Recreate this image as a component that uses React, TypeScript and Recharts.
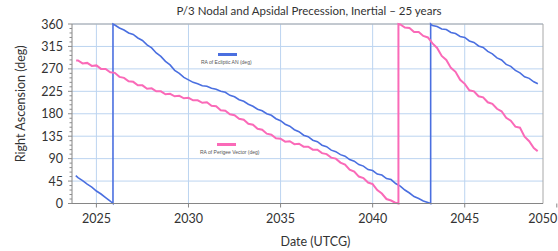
import {
  LineChart,
  Line,
  XAxis,
  YAxis,
  CartesianGrid,
  Legend,
  ReferenceLine,
} from "recharts";

// date axis (years) and RA axis (deg)
const xDomain = [2023.675, 2049.25];
const xTicks = [2025, 2030, 2035, 2040, 2045, 2050];
const yMajor = [0, 45, 90, 135, 180, 225, 270, 315, 360];
const yMinor = [
  0, 9, 18, 27, 36, 45, 54, 63, 72, 81, 90, 99, 108, 117, 126, 135, 144, 153, 162, 171, 180,
  189, 198, 207, 216, 225, 234, 243, 252, 261, 270, 279, 288, 297, 306, 315, 324, 333, 342, 351, 360,
];

// [year, RA deg]
const eclipticAN: [number, number][] = [
  [2023.88, 56], [2024.0, 52], [2024.25, 46], [2024.5, 39], [2024.75, 33], [2025.0, 25],
  [2025.25, 19], [2025.5, 12], [2025.75, 5], [2025.9, 0], [2025.9, 360], [2026.0, 358],
  [2026.25, 352], [2026.5, 348], [2026.75, 342], [2027.0, 339], [2027.25, 332], [2027.5, 327],
  [2027.75, 318], [2028.0, 312], [2028.25, 302], [2028.5, 295], [2028.75, 285], [2029.0, 278],
  [2029.25, 267], [2029.5, 261], [2029.75, 253], [2030.0, 248], [2030.25, 243], [2030.5, 240],
  [2030.75, 236], [2031.0, 235], [2031.25, 231], [2031.5, 229], [2031.75, 225], [2032.0, 223],
  [2032.25, 217], [2032.5, 214], [2032.75, 208], [2033.0, 205], [2033.25, 199], [2033.5, 195],
  [2033.75, 189], [2034.0, 186], [2034.25, 180], [2034.5, 177], [2034.75, 170], [2035.0, 166],
  [2035.25, 159], [2035.5, 155], [2035.75, 148], [2036.0, 144], [2036.25, 137], [2036.5, 134],
  [2036.75, 127], [2037.0, 124], [2037.25, 117], [2037.5, 114], [2037.75, 107], [2038.0, 104],
  [2038.25, 98], [2038.5, 95], [2038.75, 88], [2039.0, 85], [2039.25, 78], [2039.5, 75],
  [2039.75, 68], [2040.0, 66], [2040.25, 59], [2040.5, 57], [2040.75, 50], [2041.0, 48],
  [2041.25, 40], [2041.5, 35], [2041.75, 27], [2042.0, 21], [2042.25, 14], [2042.5, 10],
  [2042.75, 5], [2043.0, 2], [2043.15, 0], [2043.15, 360], [2043.25, 357], [2043.5, 355],
  [2043.75, 350], [2044.0, 349], [2044.25, 343], [2044.5, 341], [2044.75, 335], [2045.0, 333],
  [2045.25, 326], [2045.5, 323], [2045.75, 316], [2046.0, 313], [2046.25, 305], [2046.5, 300],
  [2046.75, 292], [2047.0, 288], [2047.25, 279], [2047.5, 275], [2047.75, 267], [2048.0, 262],
  [2048.25, 254], [2048.5, 251], [2048.75, 244], [2048.97, 240],
];

const perigeeVector: [number, number][] = [
  [2023.9, 287], [2024.0, 287], [2024.25, 281], [2024.5, 282], [2024.75, 276], [2025.0, 277],
  [2025.25, 270], [2025.5, 270], [2025.75, 263], [2026.0, 262], [2026.25, 254], [2026.5, 252],
  [2026.75, 245], [2027.0, 244], [2027.25, 237], [2027.5, 237], [2027.75, 230], [2028.0, 231],
  [2028.25, 225], [2028.5, 225], [2028.75, 219], [2029.0, 220], [2029.25, 215], [2029.5, 216],
  [2029.75, 211], [2030.0, 212], [2030.25, 207], [2030.5, 207], [2030.75, 202], [2031.0, 203],
  [2031.25, 196], [2031.5, 195], [2031.75, 187], [2032.0, 186], [2032.25, 179], [2032.5, 177],
  [2032.75, 170], [2033.0, 168], [2033.25, 160], [2033.5, 158], [2033.75, 150], [2034.0, 148],
  [2034.25, 140], [2034.5, 138], [2034.75, 131], [2035.0, 130], [2035.25, 124], [2035.5, 125],
  [2035.75, 119], [2036.0, 120], [2036.25, 114], [2036.5, 114], [2036.75, 108], [2037.0, 108],
  [2037.25, 101], [2037.5, 99], [2037.75, 92], [2038.0, 90], [2038.25, 82], [2038.5, 78],
  [2038.75, 68], [2039.0, 64], [2039.25, 54], [2039.5, 51], [2039.75, 42], [2040.0, 39],
  [2040.25, 27], [2040.5, 20], [2040.75, 9], [2041.0, 6], [2041.2, 2], [2041.4, 0],
  [2041.4, 360], [2041.5, 359], [2041.75, 353], [2042.0, 352], [2042.25, 344], [2042.5, 344],
  [2042.75, 336], [2043.0, 333], [2043.25, 321], [2043.5, 312], [2043.75, 296], [2044.0, 288],
  [2044.25, 272], [2044.5, 264], [2044.75, 248], [2045.0, 240], [2045.25, 227], [2045.5, 225],
  [2045.75, 215], [2046.0, 213], [2046.25, 203], [2046.5, 200], [2046.75, 190], [2047.0, 185],
  [2047.25, 172], [2047.5, 166], [2047.75, 154], [2048.0, 152], [2048.25, 134], [2048.5, 125],
  [2048.75, 111], [2048.96, 105],
];

const FONT = "Lato, 'Liberation Sans', sans-serif";

const anData = eclipticAN.map(([year, deg]) => ({ year, deg }));
const pgData = perigeeVector.map(([year, deg]) => ({ year, deg }));

// legend entries sit inside the plot in the original
const legendSpots = [
  { left: 201, top: 53 },
  { left: 200, top: 143 },
];

function FloatingLegend({ payload }: any) {
  return (
    <div>
      {(payload || []).map((p: any, i: number) => (
        <div
          key={p.value}
          style={{
            position: "absolute",
            left: legendSpots[i].left,
            top: legendSpots[i].top,
            width: 64,
            fontFamily: "'Liberation Sans', Arial, sans-serif",
            fontSize: 5,
            color: "#555",
            whiteSpace: "nowrap",
          }}
        >
          <div style={{ width: 19, height: 3, background: p.color, margin: "0 auto 3px 17px" }} />
          <div>{p.value}</div>
        </div>
      ))}
    </div>
  );
}

function YTick({ x, y, payload }: any) {
  const v = payload.value;
  const major = v % 45 === 0;
  return (
    <g>
      <line x1={x - (major ? 4 : 2.5)} x2={x} y1={y} y2={y} stroke="#8c8c8c" />
      {major && (
        <text x={x - 9} y={y} dy={4.5} textAnchor="end" fontSize={12.5} fill="#333" fontFamily={FONT}>
          {v}
        </text>
      )}
    </g>
  );
}

function XTick({ x, y, payload }: any) {
  // last label is pulled inside the frame, as the original does
  const shift = payload.value === 2050 ? -14 : 0;
  return (
    <text x={x + shift} y={y} dy="0.71em" textAnchor="middle" fontSize={12.5} fill="#333" fontFamily={FONT}>
      {payload.value}
    </text>
  );
}

export default function App() {
  return (
    <div style={{ position: "absolute", left: 0, top: 0, width: 558, height: 251, background: "#fff" }}>
      <div
        style={{
          position: "absolute",
          left: 309,
          top: 4,
          transform: "translateX(-50%)",
          whiteSpace: "nowrap",
          fontFamily: FONT,
          fontSize: 11.5,
          color: "#333",
        }}
      >
        P/3 Nodal and Apsidal Precession, Inertial – 25 years
      </div>
      <LineChart width={558} height={251} margin={{ top: 24, right: 15, bottom: 0, left: 0 }}>
        <CartesianGrid
          stroke="#bcd4f0"
          horizontalValues={yMajor}
          verticalValues={xTicks.filter((t) => t <= xDomain[1])}
        />
        <XAxis
          dataKey="year"
          type="number"
          domain={xDomain}
          allowDataOverflow
          ticks={xTicks}
          interval={0}
          height={47.5}
          tickSize={4}
          tickMargin={7}
          stroke="#868686"
          tick={<XTick />}
          label={{ value: "Date (UTCG)", position: "insideBottom", offset: 5, dx: 8, fontSize: 12.5, fill: "#333", fontFamily: FONT }}
        />
        <YAxis
          type="number"
          domain={[0, 360]}
          ticks={yMinor}
          interval={0}
          width={72}
          tickSize={0}
          tickMargin={0}
          tickLine={false}
          stroke="#868686"
          tick={<YTick />}
          label={{ value: "Right Ascension (deg)", angle: -90, position: "center", dx: -15, dy: -10, fontSize: 12.5, fill: "#333", fontFamily: FONT }}
        />
        <ReferenceLine y={360} stroke="#a8a8a8" />
        <ReferenceLine x={xDomain[1]} stroke="#a8a8a8" />
        <Legend content={<FloatingLegend />} wrapperStyle={{ left: 0, top: 0, width: 0, height: 0 }} />
        <Line
          data={anData}
          dataKey="deg"
          name="RA of Ecliptic AN (deg)"
          stroke="#4a6fe0"
          strokeWidth={1.6}
          dot={false}
          isAnimationActive={false}
        />
        <Line
          data={pgData}
          dataKey="deg"
          name="RA of Perigee Vector (deg)"
          stroke="#fa6ab8"
          strokeWidth={2}
          dot={false}
          isAnimationActive={false}
        />
      </LineChart>
    </div>
  );
}
